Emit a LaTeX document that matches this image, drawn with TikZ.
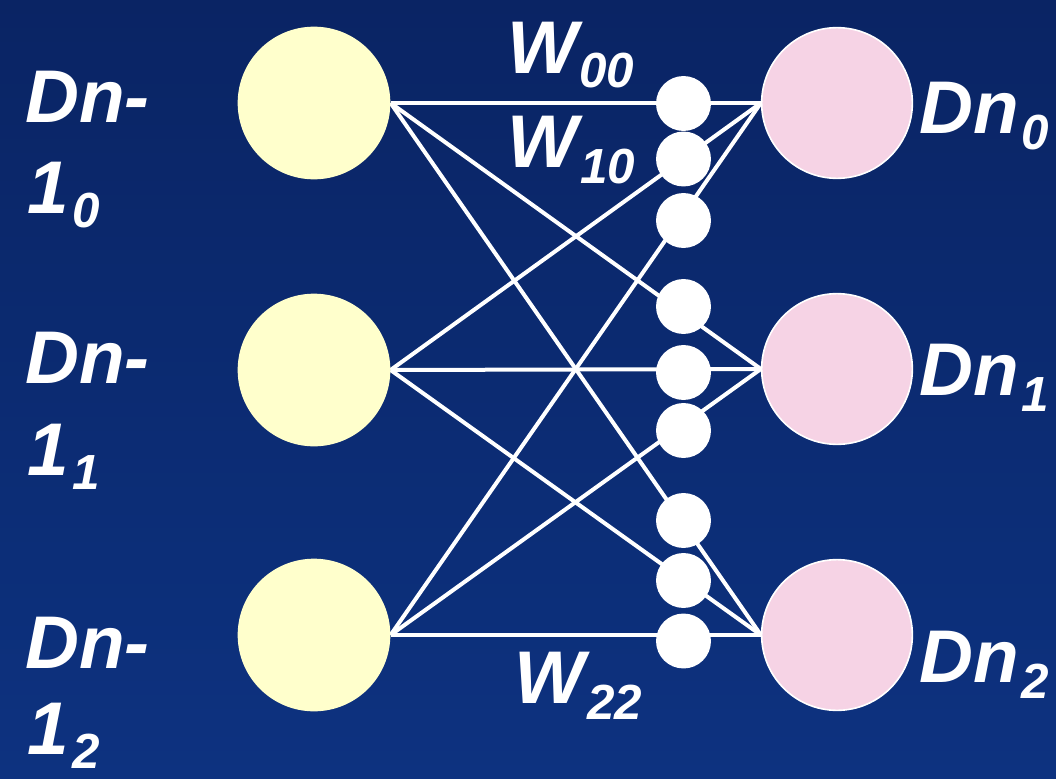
\documentclass[tikz,border=0pt]{standalone}
\usepackage{fontspec}
\setmainfont{Liberation Sans}
\definecolor{bgtop}{RGB}{10,36,100}
\definecolor{bgbot}{RGB}{13,50,128}
\definecolor{inyellow}{RGB}{255,255,204}
\definecolor{outpink}{RGB}{246,211,229}
\newcommand\subx[3][11]{\kern#2pt\raisebox{-#1pt}{\fontsize{37}{37}\selectfont #3}}
\pgfdeclarelayer{bg}
\pgfdeclarelayer{wires}
\pgfsetlayers{bg,wires,main}
\tikzset{
  lnode/.style={circle, fill=inyellow, draw=none, minimum size=114.5pt, inner sep=0pt},
  rnode/.style={circle, fill=outpink, draw=white, line width=1.2pt, minimum size=113pt, inner sep=0pt},
  wdot/.style={circle, fill=white, draw=none, minimum size=41.2pt, inner sep=0pt},
  wire/.style={draw=white, line width=3pt},
  lbl/.style={text=white, font=\fontsize{56}{56}\selectfont\bfseries\itshape, inner sep=0pt, anchor=base west}
}
\begin{document}
\begin{tikzpicture}[x=0.75pt,y=-0.75pt]
\useasboundingbox (0,0) rectangle (1056,778);
\begin{pgfonlayer}{bg}
\shade[top color=bgtop, bottom color=bgbot] (0,0) rectangle (1056,778);
\end{pgfonlayer}
% input and output neurons
\node[lnode] (L0) at (314,103) {};
\node[lnode] (L1) at (314,370) {};
\node[lnode] (L2) at (314,635) {};
\node[rnode] (R0) at (837,103) {};
\node[rnode] (R1) at (837,369) {};
\node[rnode] (R2) at (837,635) {};
% connections
\begin{pgfonlayer}{wires}
\foreach \i in {0,1,2}{
  \foreach \j in {0,1,2}{
    \draw[wire] (L\i.east) -- (R\j.west);
  }
}
\end{pgfonlayer}
% weight dots (input i -> output j)
\node[wdot] (w00) at (683.5,103.5) {};
\node[wdot] (w10) at (683.5,159) {};
\node[wdot] (w20) at (683.5,220.5) {};
\node[wdot] (w01) at (683.5,306.5) {};
\node[wdot] (w11) at (683.5,372.5) {};
\node[wdot] (w21) at (683.5,430.5) {};
\node[wdot] (w02) at (683.5,520.5) {};
\node[wdot] (w12) at (683.5,580.5) {};
\node[wdot] (w22) at (683.5,641) {};
% labels
\node[lbl] (t0a) at (25,122) {Dn-};
\node[lbl] (t0b) at (27,213) {1\subx{3}{0}};
\node[lbl] (t1a) at (25,383) {Dn-};
\node[lbl] (t1b) at (27,475) {1\subx{3}{1}};
\node[lbl] (t2a) at (25,668) {Dn-};
\node[lbl] (t2b) at (27,754) {1\subx[10.5]{3}{2}};
\node[lbl] (o0) at (919,133) {Dn\subx[12.5]{2}{0}};
\node[lbl] (o1) at (919,395) {Dn\subx[12.5]{2}{1}};
\node[lbl] (o2) at (919,682) {Dn\subx[12.5]{2}{2}};
\node[lbl] (lw00) at (507,73) {W\subx[10.5]{1}{00}};
\node[lbl] (lw10) at (507,167) {W\subx[12]{2}{10}};
\node[lbl] (lw22) at (514,703) {W\subx[12.5]{2}{22}};
\end{tikzpicture}
\end{document}
